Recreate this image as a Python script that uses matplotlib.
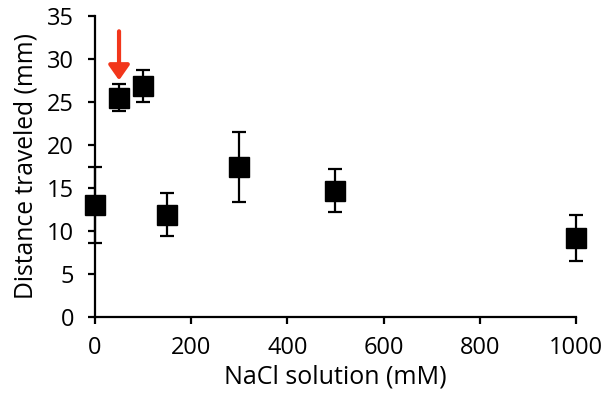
import matplotlib
matplotlib.use("Agg")
import matplotlib.pyplot as plt

nacl_mm = [0, 50, 100, 150, 300, 500, 1000]
distance = [13.0, 25.5, 26.8, 11.9, 17.4, 14.65, 9.2]
err = [4.4, 1.55, 1.85, 2.5, 4.05, 2.5, 2.7]
x_ticks = [0, 200, 400, 600, 800, 1000]
y_ticks = [0, 5, 10, 15, 20, 25, 30, 35]

plt.rcParams['font.family'] = ['Open Sans', 'DejaVu Sans']

fig = plt.figure(figsize=(6.05, 4.0), dpi=100)
ax = fig.add_axes([0.157, 0.2075, 0.795, 0.753])

ax.errorbar(nacl_mm, distance, yerr=err, fmt='s', color='black',
            markersize=15, ecolor='black', elinewidth=1.6, capsize=5,
            capthick=1.6, clip_on=False, zorder=3)

ax.annotate('', xy=(50, 27.5), xytext=(50, 33.2),
            arrowprops=dict(arrowstyle='-|>,head_width=0.42,head_length=0.6',
                            mutation_scale=15,
                            color='#f2361b', lw=3, shrinkA=0, shrinkB=0))

ax.set_xlim(0, 1000)
ax.set_ylim(0, 35)
ax.set_xticks(x_ticks)
ax.set_yticks(y_ticks)
for s in ['top', 'right']:
    ax.spines[s].set_visible(False)
for s in ['left', 'bottom']:
    ax.spines[s].set_linewidth(1.6)
ax.tick_params(direction='out', length=5, width=1.6, labelsize=17)
ax.tick_params(axis='x', pad=9)
ax.tick_params(axis='y', pad=10)
ax.set_xlabel('NaCl solution (mM)', fontsize=18, labelpad=3)
ax.set_ylabel('Distance traveled (mm)', fontsize=17.7, labelpad=6)

fig.savefig('out.png', dpi=100)
